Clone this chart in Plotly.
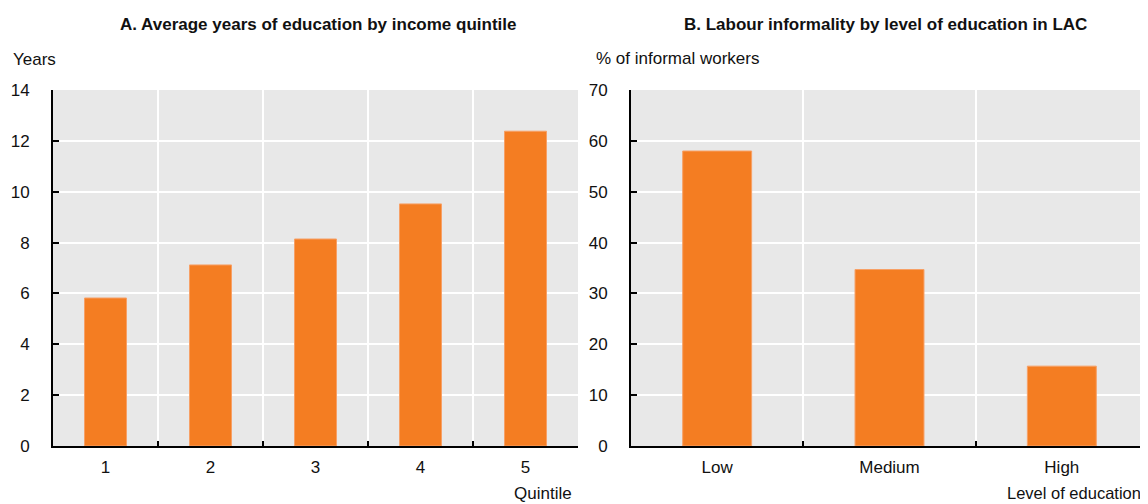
import plotly.graph_objects as go
from plotly.subplots import make_subplots

quintiles = ["1", "2", "3", "4", "5"]
years = [5.82, 7.12, 8.14, 9.52, 12.38]

edu_levels = ["Low", "Medium", "High"]
informal = [58.0, 34.7, 15.7]

title_a = "A. Average years of education by income quintile"
title_b = "B. Labour informality by level of education in LAC"

FONT = "Liberation Sans, Arial, sans-serif"
FS = 17
ORANGE = "#f47d22"
BG = "#e8e8e8"

# page body has an 8px margin: work in reference pixels, shift by OFF
OFF = 8
FIG_W, FIG_H = 1148 - OFF, 504 - OFF
PL, PR, PT, PB = 53, 1148, 90, 446  # plot area in reference pixels
W = PR - PL
H = PB - PT

fig = make_subplots(rows=1, cols=2)

fig.add_trace(go.Bar(x=quintiles, y=years, width=0.4,
                     marker=dict(color=ORANGE, line=dict(color="#f7a066", width=1)),
                     showlegend=False, hoverinfo="x+y"), row=1, col=1)
fig.add_trace(go.Bar(x=edu_levels, y=informal, width=0.4,
                     marker=dict(color=ORANGE, line=dict(color="#f7a066", width=1)),
                     showlegend=False, hoverinfo="x+y"), row=1, col=2)

d1 = (578 - PL) / W
d2 = (631 - PL) / W

xcommon = dict(type="category", tickson="boundaries", ticks="inside", ticklen=5, tickwidth=2, tickcolor="black",
               showline=True, linecolor="black", linewidth=2, showgrid=True, gridcolor="white", gridwidth=2,
               tickfont=dict(family=FONT, size=FS, color="#111"), zeroline=False, ticklabelstandoff=5)
ycommon = dict(ticks="inside", ticklen=6, tickwidth=2, tickcolor="black", showline=True, linecolor="black", linewidth=2,
               showgrid=True, gridcolor="white", gridwidth=2, zeroline=False,
               tickfont=dict(family=FONT, size=FS, color="#111"), ticklabelstandoff=18)

fig.update_xaxes(**xcommon)
fig.update_yaxes(**ycommon)
fig.update_layout(
    xaxis=dict(domain=[0, d1], range=[-0.5, 4.5]),
    xaxis2=dict(domain=[d2, 1], range=[-0.5, 2.5]),
    yaxis=dict(range=[0, 14], dtick=2),
    yaxis2=dict(range=[0, 70], dtick=10),
)

fig.update_layout(
    width=FIG_W, height=FIG_H,
    margin=dict(l=PL - OFF, r=1148 - PR, t=PT - OFF, b=FIG_H - (PB - OFF), pad=0),
    paper_bgcolor="white", plot_bgcolor=BG,
    font=dict(family=FONT, size=FS, color="#111"),
)


def add_px(text, x_px, y_px, xanchor, bold=False, size=FS):
    xp = (x_px - PL) / W
    yp = (PB - y_px) / H
    fig.add_annotation(text=("<b>%s</b>" % text) if bold else text,
                       x=xp, y=yp, xref="paper", yref="paper",
                       showarrow=False, xanchor=xanchor, yanchor="middle",
                       font=dict(family=FONT, size=size, color="#111"))


add_px(title_a, 318, 25, "center", bold=True, size=17)
add_px(title_b, 886, 25, "center", bold=True, size=17)
add_px("Years", 11, 60, "left")
add_px("% of informal workers", 594, 58, "left")
add_px("Quintile", 574, 493, "right")
add_px("Level of education", 1143, 493, "right", size=16.5)

fig.write_html("out.html")
